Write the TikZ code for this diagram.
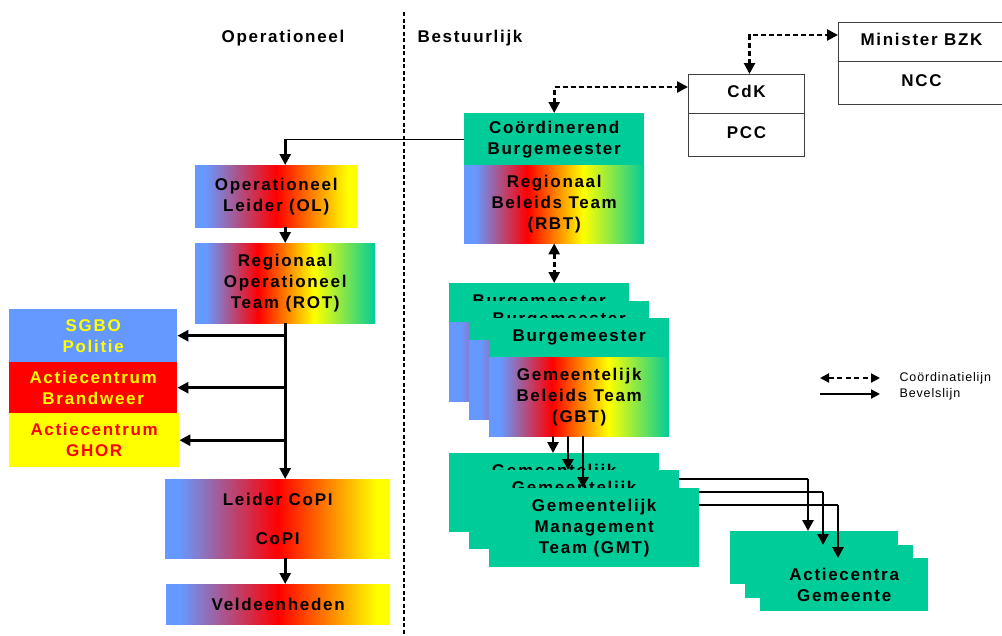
\documentclass[tikz,border=0pt]{standalone}
\usepackage{fontspec}
\setmainfont{Liberation Sans}[LetterSpace=10]
\usetikzlibrary{arrows.meta,calc}
\definecolor{cgreen}{RGB}{0,204,153}
\definecolor{cblue}{RGB}{102,153,255}
\definecolor{cyel}{RGB}{255,255,0}
\definecolor{cred}{RGB}{255,0,0}
\pgfdeclarehorizontalshading{bry}{100bp}{color(0bp)=(cblue); color(28bp)=(cblue); color(50bp)=(cred); color(72bp)=(cyel); color(100bp)=(cyel)}
\pgfdeclarehorizontalshading{rainbow}{100bp}{color(0bp)=(cblue); color(28bp)=(cblue); color(42.5bp)=(cred); color(58bp)=(cyel); color(75bp)=(cgreen); color(100bp)=(cgreen)}
\tikzset{
 every node/.style={font=\bfseries\fontsize{17}{21}\selectfont, text=black},
 box/.style={rectangle, inner sep=0pt, anchor=north west, align=center},
 grn/.style={box, fill=cgreen},
 grad/.style={box, shading=bry},
 rb/.style={box, shading=rainbow},
 wbox/.style={box, draw=black!75, line width=1pt, fill=white, text height=12pt, text depth=6pt},
 arr/.style={line width=2.6pt, -{Triangle[length=11pt,width=11pt]}},
 darr/.style={line width=2.6pt, dash pattern=on 5pt off 3pt, {Triangle[length=11pt,width=11pt]}-{Triangle[length=11pt,width=11pt]}},
 thinl/.style={line width=1.3pt},
 divl/.style={line width=2.6pt, dash pattern=on 4pt off 2.5pt},
 legtext/.style={font=\mdseries\fontsize{12.5}{14}\selectfont\addfontfeature{LetterSpace=7}, anchor=west},
}
\begin{document}
\begin{tikzpicture}[x=1pt,y=-1pt]
\useasboundingbox (0,0) rectangle (1002,635);
% headers and divider
\node (hOp) at (283,38) {Operationeel};
\node (hBe) at (470,38) {Bestuurlijk};
\coordinate (dt) at (404,12);
\coordinate (db) at (404,636);
\draw[divl] (dt) -- (db);
% operational column
\node[grad, minimum width=162pt, minimum height=62pt] (ol) at (195,165) {Operationeel\\Leider (OL)};
\node[rb, minimum width=180pt, minimum height=80pt] (rot) at (195,243) {Regionaal\\Operationeel\\Team (ROT)};
\node[box, fill=cblue, text=cyel, minimum width=168pt, minimum height=53pt] (sgbo) at (9,309) {SGBO\\Politie};
\node[box, fill=cred, text=cyel, minimum width=168pt, minimum height=51pt] (brand) at (9,362) {Actiecentrum\\Brandweer};
\node[box, fill=cyel, text=cred, minimum width=170pt, minimum height=54pt] (ghor) at (9,413) {Actiecentrum\\GHOR};
\node[grad, minimum width=225pt, minimum height=79pt] (copi) at (165,479) {Leider CoPI\\[18pt]CoPI};
\node[grad, minimum width=224pt, minimum height=40pt] (veld) at (166,584) {Veldeenheden};
% administrative column
\node[grn, minimum width=180pt, minimum height=52pt] (coordB) at (464,113) {Coördinerend\\Burgemeester};
\node[rb, minimum width=180pt, minimum height=78pt] (rbt) at (464,165) {Regionaal\\Beleids Team\\(RBT)};
\node[wbox, minimum width=116pt, minimum height=39pt] (cdk) at (688,74) {CdK};
\node[wbox, minimum width=116pt, minimum height=43pt] (pcc) at (688,113) {PCC};
\node[wbox, minimum width=166pt, minimum height=39pt] (min) at (838,22) {Minister BZK};
\node[wbox, minimum width=166pt, minimum height=43pt] (ncc) at (838,61) {NCC};
% GBT stack
\node[grn, minimum width=180pt, minimum height=39pt] (bgA) at (449,283) {Burgemeester};
\node[rb, minimum width=180pt, minimum height=79pt] (gbtA) at (449,322) {};
\node[grn, minimum width=180pt, minimum height=39pt] (bgB) at (469,301) {Burgemeester};
\node[rb, minimum width=180pt, minimum height=79pt] (gbtB) at (469,340) {};
\node[grn, minimum width=180pt, minimum height=39pt] (bgC) at (489,318) {Burgemeester};
\node[rb, minimum width=180pt, minimum height=79pt] (gbtC) at (489,357) {Gemeentelijk\\Beleids Team\\(GBT)};
% Actiecentra stack
\node[grn, minimum width=168pt, minimum height=53pt] (actA) at (730,531) {};
\node[grn, minimum width=168pt, minimum height=53pt] (actB) at (745,545) {};
\node[grn, minimum width=168pt, minimum height=53pt] (actC) at (760,558) {Actiecentra\\Gemeente};
\coordinate (a1) at ([xshift=78pt]actA.north west);
\coordinate (a2) at ([xshift=78pt]actB.north west);
\coordinate (a3) at ([xshift=78pt]actC.north west);
% GMT stack with lines to Actiecentra
\node[grn, minimum width=210pt, minimum height=79pt] (gmtA) at (449,453) {Gemeentelijk\\\phantom{Management}\\\phantom{Team (GMT)}};
\coordinate (g1) at ([yshift=-26pt]gmtA.north east);
\draw[thinl] (g1) -- (g1 -| a1);
\node[grn, minimum width=210pt, minimum height=79pt] (gmtB) at (469,470) {Gemeentelijk\\\phantom{Management}\\\phantom{Team (GMT)}};
\coordinate (g2) at ([yshift=-22pt]gmtB.north east);
\draw[thinl] (g2) -- (g2 -| a2);
\node[grn, minimum width=210pt, minimum height=79pt] (gmtC) at (489,488) {Gemeentelijk\\Management\\Team (GMT)};
\coordinate (g3) at ([yshift=-17pt]gmtC.north east);
\draw[thinl] (g3) -- (g3 -| a3);
\draw[arr] (g1 -| a1) -- (a1);
\draw[arr] (g2 -| a2) -- (a2);
\draw[arr] (g3 -| a3) -- (a3);
% GBT -> GMT
\coordinate (b1) at ([xshift=64pt]gbtC.south west);
\coordinate (b2) at ([xshift=79pt]gbtC.south west);
\coordinate (b3) at ([xshift=94pt]gbtC.south west);
\draw[arr] (b1) -- (b1 |- gmtA.north);
\draw[arr] (b2) -- (b2 |- gmtB.north);
\draw[arr] (b3) -- (b3 |- gmtC.north);
% coordination lines
\draw[darr] (rbt.south) -- (rbt.south |- bgA.north);
\coordinate (ck) at ([yshift=-13pt]cdk.north west);
\draw[darr] (coordB.north) |- (ck);
\coordinate (cu) at ([xshift=3pt]cdk.north);
\coordinate (mk) at ([yshift=-13pt]min.north west);
\draw[darr] (cu) |- (mk);
% command lines, operational
\coordinate (olc) at (rot.north |- coordB.west);
\draw[thinl] (coordB.west) -- (olc);
\draw[arr] (olc) -- (ol.north -| rot.north);
\draw[arr] (ol.south -| rot.north) -- (rot.north);
\draw[arr] (rot.south) -- (rot.south |- copi.north);
\draw[arr] (rot.south |- sgbo.east) -- (sgbo.east);
\draw[arr] (rot.south |- brand.east) -- (brand.east);
\draw[arr] (rot.south |- ghor.east) -- (ghor.east);
\draw[arr] (rot.south |- copi.south) -- (rot.south |- veld.north);
% legend
\coordinate (l1a) at (820,378);
\coordinate (l1b) at (880,378);
\coordinate (l2a) at (820,394);
\coordinate (l2b) at (880,394);
\draw[darr, line width=2pt, dash pattern=on 5pt off 3.5pt, {Triangle[length=9pt,width=9pt]}-{Triangle[length=9pt,width=9pt]}] (l1a) -- (l1b);
\draw[arr, line width=2pt, -{Triangle[length=9pt,width=9pt]}] (l2a) -- (l2b);
\node[legtext] (t1) at (896,378) {Coördinatielijn};
\node[legtext] (t2) at (896,394) {Bevelslijn};
\end{tikzpicture}
\end{document}
